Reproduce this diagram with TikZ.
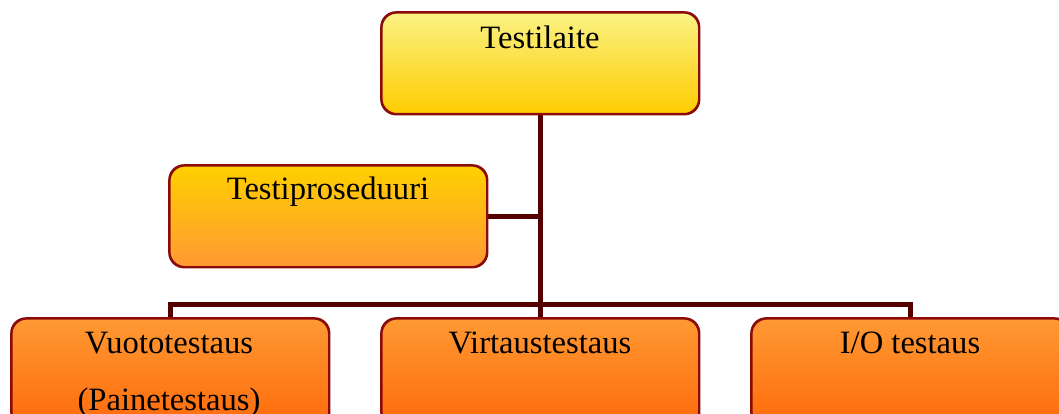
\documentclass[tikz,border=0pt]{standalone}
\usepackage{fontspec}
\usetikzlibrary{calc}
\setmainfont{Liberation Serif}
\definecolor{edge}{HTML}{8B0A0A}
\definecolor{wire}{HTML}{550000}
\definecolor{yelTop}{HTML}{FAF283}
\definecolor{yelBot}{HTML}{FFCC00}
\definecolor{ambTop}{HTML}{FFD000}
\definecolor{ambBot}{HTML}{FF9933}
\definecolor{orTop}{HTML}{FF9933}
\definecolor{orBot}{HTML}{FF6A0A}
\tikzset{
  x=1pt, y=-1pt,
  box/.style={draw=edge, line width=1.6pt, rounded corners=15pt,
    minimum width=317pt, inner sep=0pt, anchor=north west},
  topbox/.style={box, minimum height=101pt, top color=yelTop, bottom color=yelBot},
  midbox/.style={box, minimum height=101pt, top color=ambTop, bottom color=ambBot},
  lowbox/.style={box, minimum height=108pt, top color=orTop, bottom color=orBot},
  label/.style={anchor=base, inner sep=0pt, font=\fontsize{32.6}{38}\selectfont},
  conn/.style={draw=wire, line width=5pt, line join=miter, line cap=butt}
}
\begin{document}
\begin{tikzpicture}
\useasboundingbox (0,0) rectangle (1059,414);
\clip (0,0) rectangle (1059,414);

% boxes
\node[topbox] (top)  at (381,12)  {};
\node[midbox] (pros) at (169,165) {};
\node[lowbox] (vuot) at (11,318)  {};
\node[lowbox] (virt) at (381,318) {};
\node[lowbox] (io)   at (751,318) {};

% junction of the tree, straight below the top box
\coordinate (hub) at ($(top.south) + (0,190)$);

% connectors
\draw[conn] (top.south) -- (virt.north);
\draw[conn] (pros.east) -- (pros.east -| top.south);
\draw[conn] (vuot.north) |- (hub) -| (io.north);

% redraw box outlines over the connector ends
\foreach \b in {top,pros,vuot,virt,io}
  \draw[edge, line width=1.6pt, rounded corners=15pt]
    (\b.north west) rectangle (\b.south east);

% texts
\node[label] (ttop)  at (540,49)  {Testilaite};
\node[label] (tpros) at (328,200) {Testiproseduuri};
\node[label] (tvuo1) at (169,353) {Vuototestaus};
\node[label] (tvuo2) at (169,410) {(Painetestaus)};
\node[label] (tvirt) at (540,353) {Virtaustestaus};
\node[label] (tio)   at (910,353) {I/O testaus};
\end{tikzpicture}
\end{document}
